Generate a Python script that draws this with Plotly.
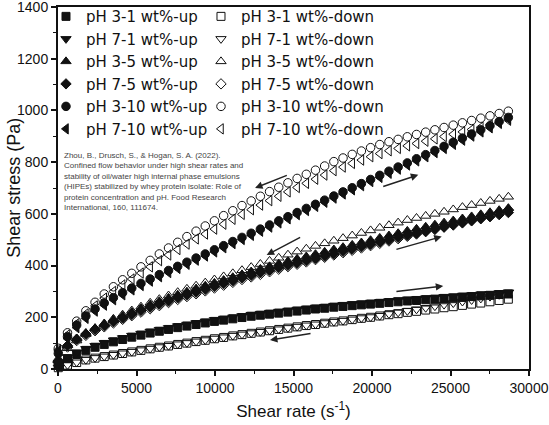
import plotly.graph_objects as go

# shear rate grid (s^-1), same points for up and down sweeps
shear_rate = [20, 605, 1190, 1775, 2360, 2945, 3530, 4115, 4700, 5285,
              5870, 6455, 7040, 7625, 8210, 8795, 9380, 9965, 10550, 11135,
              11720, 12305, 12890, 13475, 14060, 14645, 15230, 15815, 16400, 16985,
              17570, 18155, 18740, 19325, 19910, 20495, 21080, 21665, 22250, 22835,
              23420, 24005, 24590, 25175, 25760, 26345, 26930, 27515, 28100, 28685]

# shear stress (Pa)
ph3_1_up = [15, 40, 58, 72, 84, 95, 105, 114, 123, 131,
            139, 146, 153, 160, 166, 172, 178, 184, 189, 194,
            199, 204, 208, 212, 216, 220, 224, 228, 232, 235,
            239, 242, 245, 248, 251, 254, 257, 260, 263, 265,
            268, 270, 273, 275, 278, 280, 283, 285, 288, 290]
ph3_1_down = [5, 15, 25, 35, 42, 48, 54, 60, 66, 72,
              78, 84, 89, 95, 100, 106, 111, 117, 122, 128,
              133, 138, 143, 148, 153, 158, 163, 168, 172, 177,
              182, 186, 191, 196, 200, 205, 210, 214, 219, 223,
              228, 232, 237, 241, 246, 251, 255, 260, 265, 270]
ph7_1_up = [20, 46, 64, 78, 90, 101, 111, 120, 129, 137,
            145, 152, 159, 166, 172, 178, 184, 190, 195, 200,
            205, 210, 214, 218, 222, 226, 230, 234, 238, 241,
            245, 248, 251, 254, 257, 260, 263, 266, 269, 271,
            274, 276, 279, 281, 284, 286, 289, 291, 294, 297]
ph7_1_down = [6, 16, 26, 36, 43, 49, 55, 61, 67, 73,
              79, 85, 90, 96, 101, 107, 112, 118, 123, 129,
              134, 139, 144, 149, 154, 159, 164, 169, 173, 178,
              183, 187, 192, 197, 201, 206, 213, 219, 225, 231,
              237, 243, 249, 255, 261, 267, 273, 280, 287, 295]
ph3_5_up = [35, 92, 118, 139, 158, 174, 190, 205, 220, 235,
            249, 262, 275, 287, 299, 311, 322, 333, 344, 355,
            366, 377, 387, 397, 407, 417, 426, 435, 444, 453,
            462, 471, 480, 489, 498, 507, 516, 525, 534, 542,
            550, 558, 566, 574, 582, 590, 598, 606, 614, 622]
ph3_5_down = [40, 80, 110, 135, 157, 176, 194, 210, 226, 241,
              256, 270, 284, 297, 310, 322, 334, 346, 358, 370,
              382, 394, 406, 418, 430, 442, 454, 465, 476, 486,
              496, 506, 516, 526, 536, 546, 556, 566, 576, 584,
              592, 600, 608, 617, 626, 634, 642, 650, 658, 666]
ph7_5_up = [30, 90, 115, 135, 153, 168, 183, 197, 211, 226,
            239, 251, 263, 275, 286, 297, 308, 319, 330, 341,
            352, 362, 372, 382, 392, 401, 410, 419, 428, 437,
            446, 455, 464, 473, 482, 491, 500, 509, 517, 525,
            533, 541, 549, 557, 565, 573, 581, 589, 597, 605]
ph7_5_down = [25, 85, 110, 130, 148, 163, 178, 192, 206, 220,
              233, 245, 257, 269, 280, 291, 302, 313, 324, 335,
              346, 356, 366, 376, 386, 396, 405, 414, 423, 432,
              441, 450, 459, 468, 477, 486, 495, 504, 513, 522,
              531, 540, 549, 558, 567, 576, 585, 594, 604, 615]
ph3_10_up = [60, 125, 170, 205, 232, 255, 276, 295, 313, 331,
             348, 365, 381, 397, 413, 429, 445, 461, 477, 493,
             509, 525, 541, 557, 573, 589, 605, 621, 637, 653,
             669, 685, 701, 717, 733, 749, 765, 781, 797, 813,
             829, 845, 861, 877, 893, 909, 925, 941, 957, 973]
ph3_10_down = [80, 140, 185, 225, 258, 290, 318, 345, 370, 395,
               420, 445, 468, 490, 512, 533, 553, 573, 593, 612,
               632, 650, 668, 686, 703, 720, 737, 753, 769, 785,
               802, 816, 830, 843, 856, 868, 879, 888, 898, 907,
               916, 925, 934, 943, 952, 961, 970, 979, 988, 997]
ph7_10_up = [70, 118, 160, 196, 224, 247, 268, 287, 306, 323,
             340, 357, 373, 389, 405, 421, 437, 453, 469, 485,
             501, 517, 533, 549, 565, 581, 597, 613, 629, 645,
             661, 677, 693, 709, 725, 741, 757, 773, 789, 805,
             821, 837, 853, 869, 885, 901, 917, 933, 950, 967]
ph7_10_down = [75, 132, 175, 213, 244, 274, 300, 325, 348, 371,
               395, 419, 441, 462, 483, 503, 522, 541, 560, 579,
               598, 616, 634, 651, 668, 685, 702, 718, 734, 750,
               767, 781, 795, 808, 821, 833, 844, 853, 863, 872,
               881, 890, 899, 908, 917, 926, 935, 944, 953, 962]

citation = ("Zhou, B., Drusch, S., & Hogan, S. A. (2022).<br>"
            "Confined flow behavior under high shear rates and<br>"
            "stability of oil/water high internal phase emulsions<br>"
            "(HIPEs) stabilized by whey protein isolate: Role of<br>"
            "protein concentration and pH. Food Research<br>"
            "International, 160, 111674.")

INK = "#111111"
FONT = "Arial, Liberation Sans, sans-serif"

fig = go.Figure()


def add_series(name, y, symbol, size, legend, rank):
    fig.add_trace(go.Scatter(
        x=shear_rate, y=y, mode="markers", name=name,
        marker=dict(symbol=symbol, size=size, color=INK,
                    line=dict(color=INK, width=1)),
        legend=legend, legendrank=rank, cliponaxis=False))


# open (down) markers first so the filled ones sit on top
add_series("pH 3-1 wt%-down", ph3_1_down, "square-open", 8, "legend2", 1)
add_series("pH 7-1 wt%-down", ph7_1_down, "triangle-down-open", 9, "legend2", 2)
add_series("pH 3-5 wt%-down", ph3_5_down, "triangle-up-open", 9, "legend2", 3)
add_series("pH 7-5 wt%-down", ph7_5_down, "diamond-open", 8, "legend2", 4)
add_series("pH 3-10 wt%-down", ph3_10_down, "circle-open", 8.5, "legend2", 5)
add_series("pH 7-10 wt%-down", ph7_10_down, "triangle-left-open", 9, "legend2", 6)

add_series("pH 3-1 wt%-up", ph3_1_up, "square", 8, "legend", 1)
add_series("pH 7-1 wt%-up", ph7_1_up, "triangle-down", 9, "legend", 2)
add_series("pH 3-5 wt%-up", ph3_5_up, "triangle-up", 9, "legend", 3)
add_series("pH 7-5 wt%-up", ph7_5_up, "diamond", 8, "legend", 4)
add_series("pH 3-10 wt%-up", ph3_10_up, "circle", 8.5, "legend", 5)
add_series("pH 7-10 wt%-up", ph7_10_up, "triangle-left", 9, "legend", 6)

# sweep direction arrows: (tip x, tip y, tail x, tail y)
arrows = [(12550, 700, 14670, 751), (22950, 751, 20620, 704),
          (13290, 441, 15520, 512), (24440, 512, 21460, 461),
          (24540, 321, 21460, 299), (13500, 112, 16180, 138)]
for tx, ty, sx, sy in arrows:
    fig.add_annotation(x=tx, y=ty, ax=sx, ay=sy, xref="x", yref="y",
                       axref="x", ayref="y", text="", showarrow=True,
                       arrowhead=2, arrowsize=1, arrowwidth=1.5, arrowcolor="#222222")

fig.add_annotation(x=0.0085, y=0.607, xref="paper", yref="paper", xanchor="left",
                   yanchor="top", align="left", showarrow=False, text=citation,
                   font=dict(family=FONT, size=8, color="#444444"))

# y title as an annotation so it can sit exactly where the reference has it
fig.add_annotation(x=-0.094, y=0.5, xref="paper", yref="paper", xanchor="center",
                   yanchor="middle", textangle=-90, showarrow=False,
                   text="Shear stress (Pa)", font=dict(family=FONT, size=18, color=INK))

axis_style = dict(ticks="outside", ticklen=5, tickwidth=1.5, tickcolor=INK,
                  showline=True, linewidth=2, linecolor=INK, mirror=True,
                  showgrid=False, zeroline=False, automargin=False, tickformat="d",
                  ticklabeloverflow="allow",
                  tickfont=dict(family=FONT, size=14, color=INK))

fig.update_xaxes(range=[0, 30000], tick0=0, dtick=5000,
                 minor=dict(dtick=2500, ticks="outside", ticklen=3, tickwidth=1.2, tickcolor=INK),
                 title=dict(text="Shear rate (s<sup>-1</sup>)", standoff=10,
                            font=dict(family=FONT, size=17, color=INK)),
                 **axis_style)
fig.update_yaxes(range=[0, 1400], tick0=0, dtick=200,
                 minor=dict(dtick=100, ticks="outside", ticklen=3, tickwidth=1.2, tickcolor=INK),
                 **axis_style)

legend_style = dict(y=1.019, xanchor="left", yanchor="top", bgcolor="rgba(0,0,0,0)",
                    font=dict(family="DejaVu Sans", size=15, color=INK), itemwidth=30)
fig.update_layout(width=549, height=425,
                  margin=dict(l=58, r=20, t=7, b=56, autoexpand=False),
                  paper_bgcolor="white", plot_bgcolor="white",
                  legend=dict(x=-0.0255, **legend_style),
                  legend2=dict(x=0.3036, **legend_style))

# drop the browser's default page margin so the figure sits at the window corner
fig.write_html("out.html", config={"displayModeBar": False},
               post_script="document.body.style.margin = '0';")
